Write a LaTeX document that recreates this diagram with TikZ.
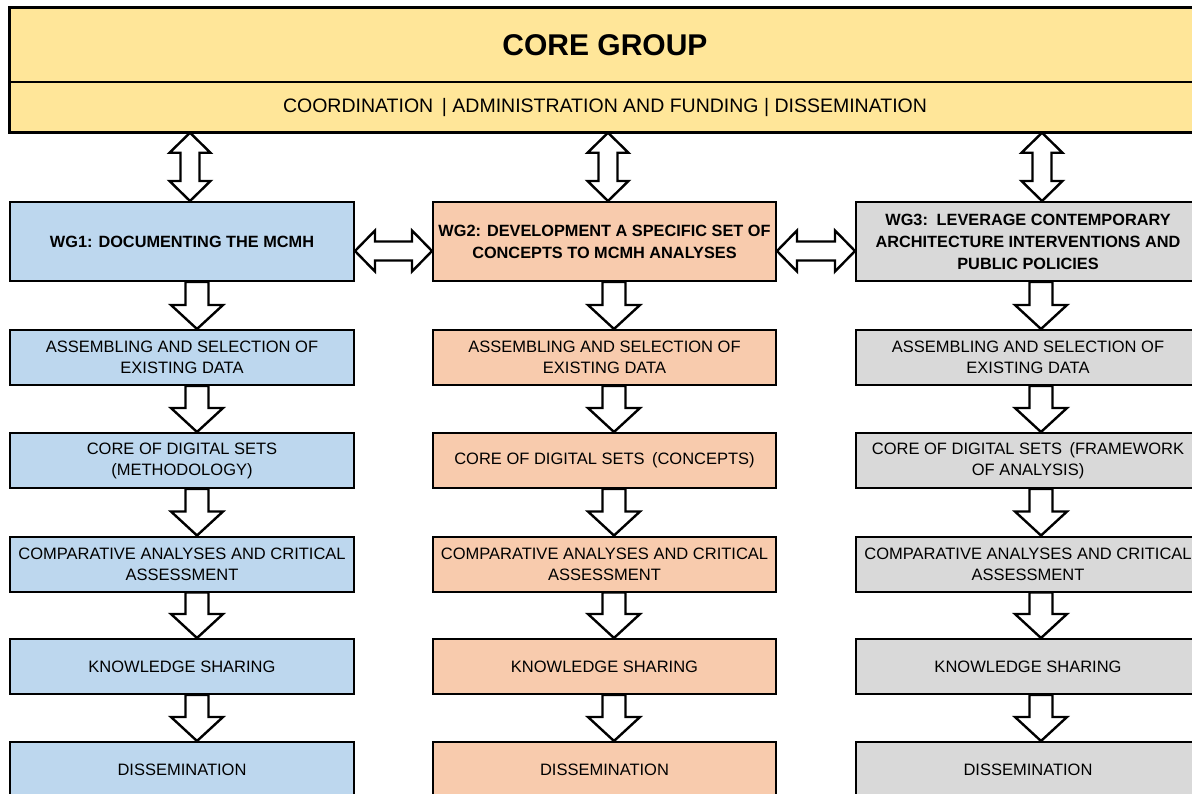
\documentclass[tikz,border=0pt]{standalone}
\usepackage{fontspec}
\setmainfont{Liberation Sans}
\usetikzlibrary{calc}
\definecolor{cyel}{HTML}{FFE699}
\definecolor{cblue}{HTML}{BDD7EE}
\definecolor{corange}{HTML}{F8CBAD}
\definecolor{cgray}{HTML}{D9D9D9}
\tikzset{
  blk/.style={draw=black, fill=white, line width=2.4pt, line join=miter},
  corebox/.style={draw=black, line width=1.5pt, fill=cyel, minimum width=1190pt, inner sep=0pt},
  box/.style={draw=black, line width=2pt, minimum height=55pt, minimum width=344pt, align=center, inner sep=1pt, font=\fontsize{16.5}{21}\selectfont},
  wgbox/.style={box, minimum height=79pt, font=\bfseries\fontsize{16.3}{22}\selectfont},
  colA/.style={fill=cblue},
  colB/.style={fill=corange, minimum width=343pt},
  colC/.style={fill=cgray}
}
% vertical double block arrow from #1.south to #2.north, x offset #3
\newcommand{\vdblarrow}[3]{%
  \draw[blk] let \p1=($(#1.south)+(#3,0)$), \p2=(#2.north) in
    (\x1,\y1) -- (\x1+20.5pt,\y1-20pt) -- (\x1+9.5pt,\y1-20pt) -- (\x1+9.5pt,\y2+20pt)
    -- (\x1+20.5pt,\y2+20pt) -- (\x1,\y2) -- (\x1-20.5pt,\y2+20pt) -- (\x1-9.5pt,\y2+20pt)
    -- (\x1-9.5pt,\y1-20pt) -- (\x1-20.5pt,\y1-20pt) -- cycle;}
% horizontal double block arrow from #1.east to #2.west, y offset #3
\newcommand{\hdblarrow}[3]{%
  \draw[blk] let \p1=($(#1.east)+(0,#3)$), \p2=(#2.west) in
    (\x1,\y1) -- (\x1+20pt,\y1+20.5pt) -- (\x1+20pt,\y1+9.5pt) -- (\x2-20pt,\y1+9.5pt)
    -- (\x2-20pt,\y1+20.5pt) -- (\x2,\y1) -- (\x2-20pt,\y1-20.5pt) -- (\x2-20pt,\y1-9.5pt)
    -- (\x1+20pt,\y1-9.5pt) -- (\x1+20pt,\y1-20.5pt) -- cycle;}
% single downward block arrow from #1.south to #2.north, x offset #3
\newcommand{\downblk}[3]{%
  \draw[blk] let \p1=($(#1.south)+(#3,0)$), \p2=(#2.north) in
    (\x1-11.5pt,\y1) -- (\x1+11.5pt,\y1) -- (\x1+11.5pt,\y2+24pt) -- (\x1+26pt,\y2+24pt)
    -- (\x1,\y2) -- (\x1-26pt,\y2+24pt) -- (\x1-11.5pt,\y2+24pt) -- cycle;}
\begin{document}
\begin{tikzpicture}[x=1pt,y=-1pt]
\useasboundingbox (0,0) rectangle (1192,793);
\clip (0,0) rectangle (1192,793);
\fill[white] (0,0) rectangle (1192,793);

% core group
\node[corebox, minimum height=74pt, font=\bfseries\fontsize{30}{32}\selectfont] (coreA) at (605,45) {CORE GROUP};
\node[corebox, minimum height=50pt, font=\fontsize{19.5}{20}\selectfont] (coreB) at (605,107) {COORDINATION \,| ADMINISTRATION AND FUNDING | DISSEMINATION};
\draw[line width=3pt] (coreA.north west) rectangle (coreB.south east);

% column 1
\node[wgbox, colA] (a1) at (182,241.5) {WG1: DOCUMENTING THE MCMH};
\node[box, colA] (a2) at (182,357.5) {ASSEMBLING AND SELECTION OF\\EXISTING DATA};
\node[box, colA] (a3) at (182,460.5) {CORE OF DIGITAL SETS\\(METHODOLOGY)};
\node[box, colA] (a4) at (182,564) {COMPARATIVE ANALYSES AND CRITICAL\\ASSESSMENT};
\node[box, colA] (a5) at (182,666.5) {KNOWLEDGE SHARING};
\node[box, colA] (a6) at (182,769.5) {DISSEMINATION};

% column 2
\node[wgbox, colB] (b1) at (604.5,241.5) {WG2: DEVELOPMENT A SPECIFIC SET OF\\CONCEPTS TO MCMH ANALYSES};
\node[box, colB] (b2) at (604.5,357.5) {ASSEMBLING AND SELECTION OF\\EXISTING DATA};
\node[box, colB] (b3) at (604.5,460.5) {CORE OF DIGITAL SETS \,(CONCEPTS)};
\node[box, colB] (b4) at (604.5,564) {COMPARATIVE ANALYSES AND CRITICAL\\ASSESSMENT};
\node[box, colB] (b5) at (604.5,666.5) {KNOWLEDGE SHARING};
\node[box, colB] (b6) at (604.5,769.5) {DISSEMINATION};

% column 3
\node[wgbox, colC] (c1) at (1028,241.5) {WG3: \,LEVERAGE CONTEMPORARY\\ARCHITECTURE INTERVENTIONS AND\\PUBLIC POLICIES};
\node[box, colC] (c2) at (1028,357.5) {ASSEMBLING AND SELECTION OF\\EXISTING DATA};
\node[box, colC] (c3) at (1028,460.5) {CORE OF DIGITAL SETS \,(FRAMEWORK\\OF ANALYSIS)};
\node[box, colC] (c4) at (1028,564) {COMPARATIVE ANALYSES AND CRITICAL\\ASSESSMENT};
\node[box, colC] (c5) at (1028,666.5) {KNOWLEDGE SHARING};
\node[box, colC] (c6) at (1028,769.5) {DISSEMINATION};

% arrows core <-> WG
\vdblarrow{coreB}{a1}{-415}
\vdblarrow{coreB}{b1}{3}
\vdblarrow{coreB}{c1}{437}

% horizontal arrows between WGs
\hdblarrow{a1}{b1}{9.5}
\hdblarrow{b1}{c1}{9.5}

% down arrows
\downblk{a1}{a2}{15}
\downblk{a2}{a3}{15}
\downblk{a3}{a4}{15}
\downblk{a4}{a5}{15}
\downblk{a5}{a6}{15}
\downblk{b1}{b2}{9.5}
\downblk{b2}{b3}{9.5}
\downblk{b3}{b4}{9.5}
\downblk{b4}{b5}{9.5}
\downblk{b5}{b6}{9.5}
\downblk{c1}{c2}{13}
\downblk{c2}{c3}{13}
\downblk{c3}{c4}{13}
\downblk{c4}{c5}{13}
\downblk{c5}{c6}{13}
\end{tikzpicture}
\end{document}
